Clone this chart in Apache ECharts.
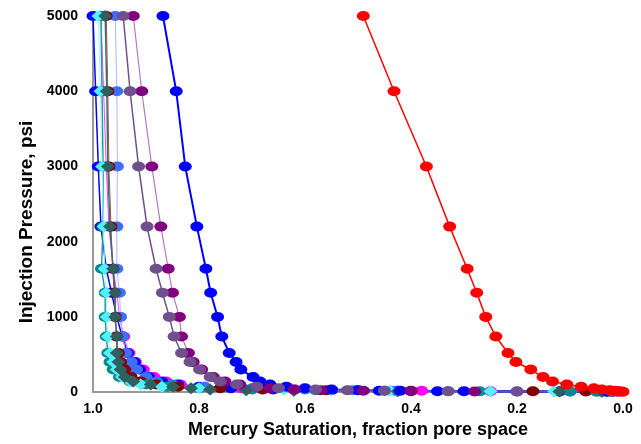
<!DOCTYPE html>
<html>
<head>
<meta charset="utf-8">
<script src="https://cdn.jsdelivr.net/npm/echarts@6/dist/echarts.min.js"></script>
<style>
  html, body { margin: 0; padding: 0; background: #fff; }
  #chart { width: 641px; height: 444px; }
</style>
</head>
<body>
<div id="chart"></div>
<script>
// Injection pressure steps (psi)
const pressure = [5000, 4000, 3000, 2200, 1640, 1320, 1000, 740, 520, 400, 300, 200, 140, 100, 70, 50, 35, 25, 17, 12, 8, 5];

// Mercury saturation (fraction of pore space) for each sample at the pressure steps
const satRed       = [0.490, 0.432, 0.371, 0.327, 0.294, 0.276, 0.259, 0.240, 0.217, 0.202, 0.174, 0.151, 0.133, 0.106, 0.079, 0.055, 0.040, 0.025, 0.015, 0.008, 0.004, 0.000];
const satBlue      = [0.868, 0.843, 0.826, 0.804, 0.787, 0.778, 0.765, 0.757, 0.743, 0.730, 0.721, 0.698, 0.685, 0.666, 0.635, 0.600, 0.550, 0.500, 0.420, 0.350, 0.200, 0.030];
const satPurple    = [0.924, 0.908, 0.889, 0.872, 0.858, 0.850, 0.837, 0.833, 0.820, 0.811, 0.795, 0.773, 0.751, 0.723, 0.691, 0.666, 0.620, 0.570, 0.490, 0.400, 0.280, 0.010];
const satSlate     = [0.943, 0.930, 0.914, 0.898, 0.881, 0.869, 0.856, 0.847, 0.833, 0.817, 0.799, 0.779, 0.760, 0.729, 0.691, 0.650, 0.580, 0.520, 0.450, 0.330, 0.200, 0.020];
const satRoyal     = [1.000, 0.995, 0.990, 0.985, 0.975, 0.965, 0.955, 0.945, 0.935, 0.922, 0.912, 0.895, 0.870, 0.840, 0.800, 0.740, 0.660, 0.550, 0.460, 0.300, 0.120, 0.030];
const satCornflower= [0.958, 0.955, 0.954, 0.955, 0.955, 0.950, 0.948, 0.944, 0.938, 0.928, 0.918, 0.900, 0.880, 0.850, 0.790, 0.700, 0.600, 0.510, 0.430, 0.330, 0.100, 0.040];
const satMagenta   = [0.985, 0.980, 0.975, 0.970, 0.962, 0.955, 0.950, 0.942, 0.932, 0.920, 0.905, 0.885, 0.862, 0.835, 0.790, 0.720, 0.620, 0.500, 0.380, 0.250, 0.120, 0.020];
const satMaroon    = [0.975, 0.972, 0.970, 0.966, 0.963, 0.960, 0.958, 0.956, 0.952, 0.948, 0.940, 0.928, 0.910, 0.880, 0.840, 0.760, 0.680, 0.560, 0.400, 0.170, 0.070, 0.020];
const satTeal      = [0.985, 0.983, 0.981, 0.981, 0.984, 0.977, 0.977, 0.975, 0.972, 0.968, 0.962, 0.950, 0.930, 0.900, 0.860, 0.800, 0.700, 0.580, 0.450, 0.270, 0.100, 0.050];
const satCyan      = [0.990, 0.986, 0.983, 0.980, 0.978, 0.975, 0.974, 0.972, 0.968, 0.962, 0.955, 0.945, 0.930, 0.910, 0.870, 0.800, 0.640, 0.550, 0.440, 0.250, 0.130, 0.030];
const satDarkSlate = [0.977, 0.974, 0.972, 0.968, 0.962, 0.958, 0.958, 0.955, 0.955, 0.952, 0.948, 0.940, 0.924, 0.891, 0.849, 0.815, 0.779, 0.711, 0.621, 0.425, 0.120, 0.040];

// Axis tick values
const xTicks = [1.0, 0.8, 0.6, 0.4, 0.2, 0.0];
const yTicks = [0, 1000, 2000, 3000, 4000, 5000];

const FONT = 'Arial, "Liberation Sans", sans-serif';

function pairs(sat) {
  return sat.map((s, i) => [s, pressure[i]]);
}

function curve(name, sat, markColor, lineColor, lineWidth, symbol, size) {
  return {
    name: name,
    type: 'line',
    data: pairs(sat),
    symbol: symbol,
    symbolSize: size,
    showSymbol: true,
    itemStyle: { color: markColor, borderWidth: 0, opacity: 1 },
    lineStyle: { color: lineColor, width: lineWidth },
    emphasis: { disabled: true },
    animation: false,
    z: 2
  };
}

const chart = echarts.init(document.getElementById('chart'), null, { renderer: 'canvas' });

chart.setOption({
  backgroundColor: '#ffffff',
  animation: false,
  grid: { left: 93, right: 18, top: 16, bottom: 51, containLabel: false },
  graphic: [{
    type: 'text',
    rotation: Math.PI / 2,
    x: 27,
    y: 222,
    style: {
      text: 'Injection Pressure, psi',
      fontFamily: FONT,
      fontWeight: 'bold',
      fontSize: 19,
      fill: '#000',
      align: 'center',
      verticalAlign: 'middle'
    }
  }],
  xAxis: {
    type: 'value',
    inverse: true,
    min: 0,
    max: 1,
    interval: 0.2,
    name: 'Mercury Saturation, fraction pore space',
    nameLocation: 'middle',
    nameGap: 28,
    nameTextStyle: { fontFamily: FONT, fontWeight: 'bold', fontSize: 18, color: '#000' },
    axisLine: { show: true, onZero: false, lineStyle: { color: '#999', width: 2 } },
    axisTick: { show: false },
    splitLine: { show: false },
    axisLabel: {
      margin: 10,
      fontFamily: FONT, fontWeight: 'bold', fontSize: 14, color: '#000',
      formatter: v => xTicks.includes(+v.toFixed(1)) ? v.toFixed(1) : ''
    }
  },
  yAxis: {
    type: 'value',
    min: 0,
    max: 5000,
    interval: 1000,
    axisLine: { show: true, onZero: false, lineStyle: { color: '#999', width: 2 } },
    axisTick: { show: false },
    splitLine: { show: false },
    axisLabel: {
      margin: 15,
      fontFamily: FONT, fontWeight: 'bold', fontSize: 14, color: '#000',
      formatter: v => yTicks.includes(v) ? String(v) : ''
    }
  },
  series: [
    curve('Magenta', satMagenta, '#ff00ff', '#ff40ff', 1, 'circle', [13, 10]),
    curve('Royal', satRoyal, '#0000ff', '#0000ff', 1.5, 'circle', [13, 10]),
    curve('Cornflower', satCornflower, '#3f6fff', '#a8b8ff', 1, 'circle', [13, 10]),
    curve('Maroon', satMaroon, '#800000', '#a05050', 1, 'circle', [13, 10]),
    curve('Teal', satTeal, '#008b8b', '#20a0a0', 1.5, 'circle', [13, 10]),
    curve('Cyan', satCyan, '#55f0ff', '#9ff6ff', 1, 'diamond', [14, 12]),
    curve('DarkSlate', satDarkSlate, '#2f5f5f', '#3f7070', 1.5, 'diamond', [14, 12]),
    curve('Blue', satBlue, '#0000ff', '#0000ff', 2, 'circle', [13, 10]),
    curve('Purple', satPurple, '#800080', '#b878c0', 1.2, 'circle', [13, 10]),
    curve('Slate', satSlate, '#70508c', '#70508c', 1.5, 'circle', [13, 10]),
    curve('Red', satRed, '#ff0000', '#ff0000', 1.5, 'circle', [13, 10])
  ]
});
</script>
</body>
</html>
